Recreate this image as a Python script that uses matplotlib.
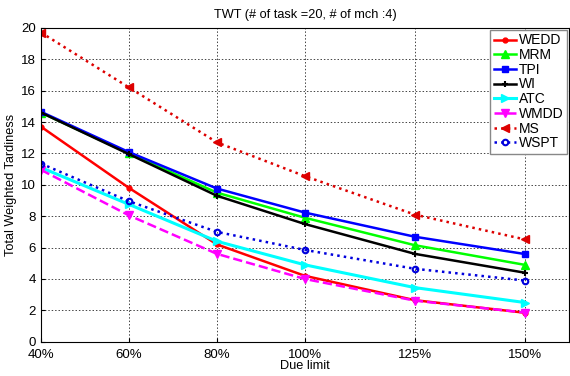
import matplotlib.pyplot as plt

plt.rcParams['font.family'] = ['Liberation Sans', 'DejaVu Sans']

# due limit (%) and results per rule
due_limit = [40, 60, 80, 100, 125, 150]
tick_labels = ['40%', '60%', '80%', '100%', '125%', '150%']

wedd = [13.7, 9.8, 6.2, 4.2, 2.65, 1.85]
mrm = [14.6, 12.0, 9.5, 7.9, 6.15, 4.9]
tpi = [14.65, 12.08, 9.76, 8.23, 6.69, 5.59]
wi = [14.6, 11.95, 9.3, 7.5, 5.6, 4.4]
atc = [11.1, 8.75, 6.4, 4.9, 3.45, 2.5]
wmdd = [10.95, 8.05, 5.6, 4.0, 2.62, 1.86]
ms = [19.7, 16.2, 12.7, 10.55, 8.1, 6.52]
wspt = [11.35, 8.95, 7.0, 5.85, 4.65, 3.9]

fig = plt.figure(figsize=(5.7, 3.76), dpi=100)
ax = fig.add_axes([0.072, 0.091, 0.926, 0.835])

ax.plot(due_limit, wedd, color='#ff0000', ls='-', lw=1.8, marker='.', ms=7, label='WEDD')
ax.plot(due_limit, mrm, color='#00ff00', ls='-', lw=1.8, marker='^', ms=6, label='MRM')
ax.plot(due_limit, tpi, color='#0000ff', ls='-', lw=1.8, marker='s', ms=5, label='TPI')
ax.plot(due_limit, wi, color='black', ls='-', lw=1.8, marker='+', ms=4, mew=1.5, label='WI')
ax.plot(due_limit, atc, color='cyan', ls='-', lw=2.2, marker='>', ms=6, label='ATC')
ax.plot(due_limit, wmdd, color='#ff00ff', ls='--', lw=1.8, marker='v', ms=6, label='WMDD')
ax.plot(due_limit, ms, color='#dd0000', ls=':', lw=1.8, marker='<', ms=6, label='MS')
ax.plot(due_limit, wspt, color='#0000dd', ls=':', lw=1.8, marker='o', ms=4,
        mfc='none', mew=1.5, label='WSPT')

ax.set_xlim(40, 160)
ax.set_ylim(0, 20)
ax.set_xticks(due_limit)
ax.set_xticklabels(tick_labels)
ax.set_yticks(range(0, 21, 2))
ax.tick_params(labelsize=9.5, direction='in', length=3)
ax.tick_params(axis='x', pad=5.5)
ax.grid(True, color='#444444', ls=(0, (1.5, 2)), lw=0.7)

ax.set_title('TWT (# of task =20, # of mch :4)', fontsize=9.2, pad=7)
ax.set_xlabel('Due limit', fontsize=9.2, labelpad=-1)
ax.set_ylabel('Total Weighted Tardiness', fontsize=9.2, labelpad=3)

leg = ax.legend(loc='upper right', fontsize=10, handlelength=1.6, handletextpad=0.2,
                labelspacing=0.05, borderpad=0.25, fancybox=False, framealpha=1,
                edgecolor='#888888', borderaxespad=0.15)

fig.savefig('out.png', dpi=100)
